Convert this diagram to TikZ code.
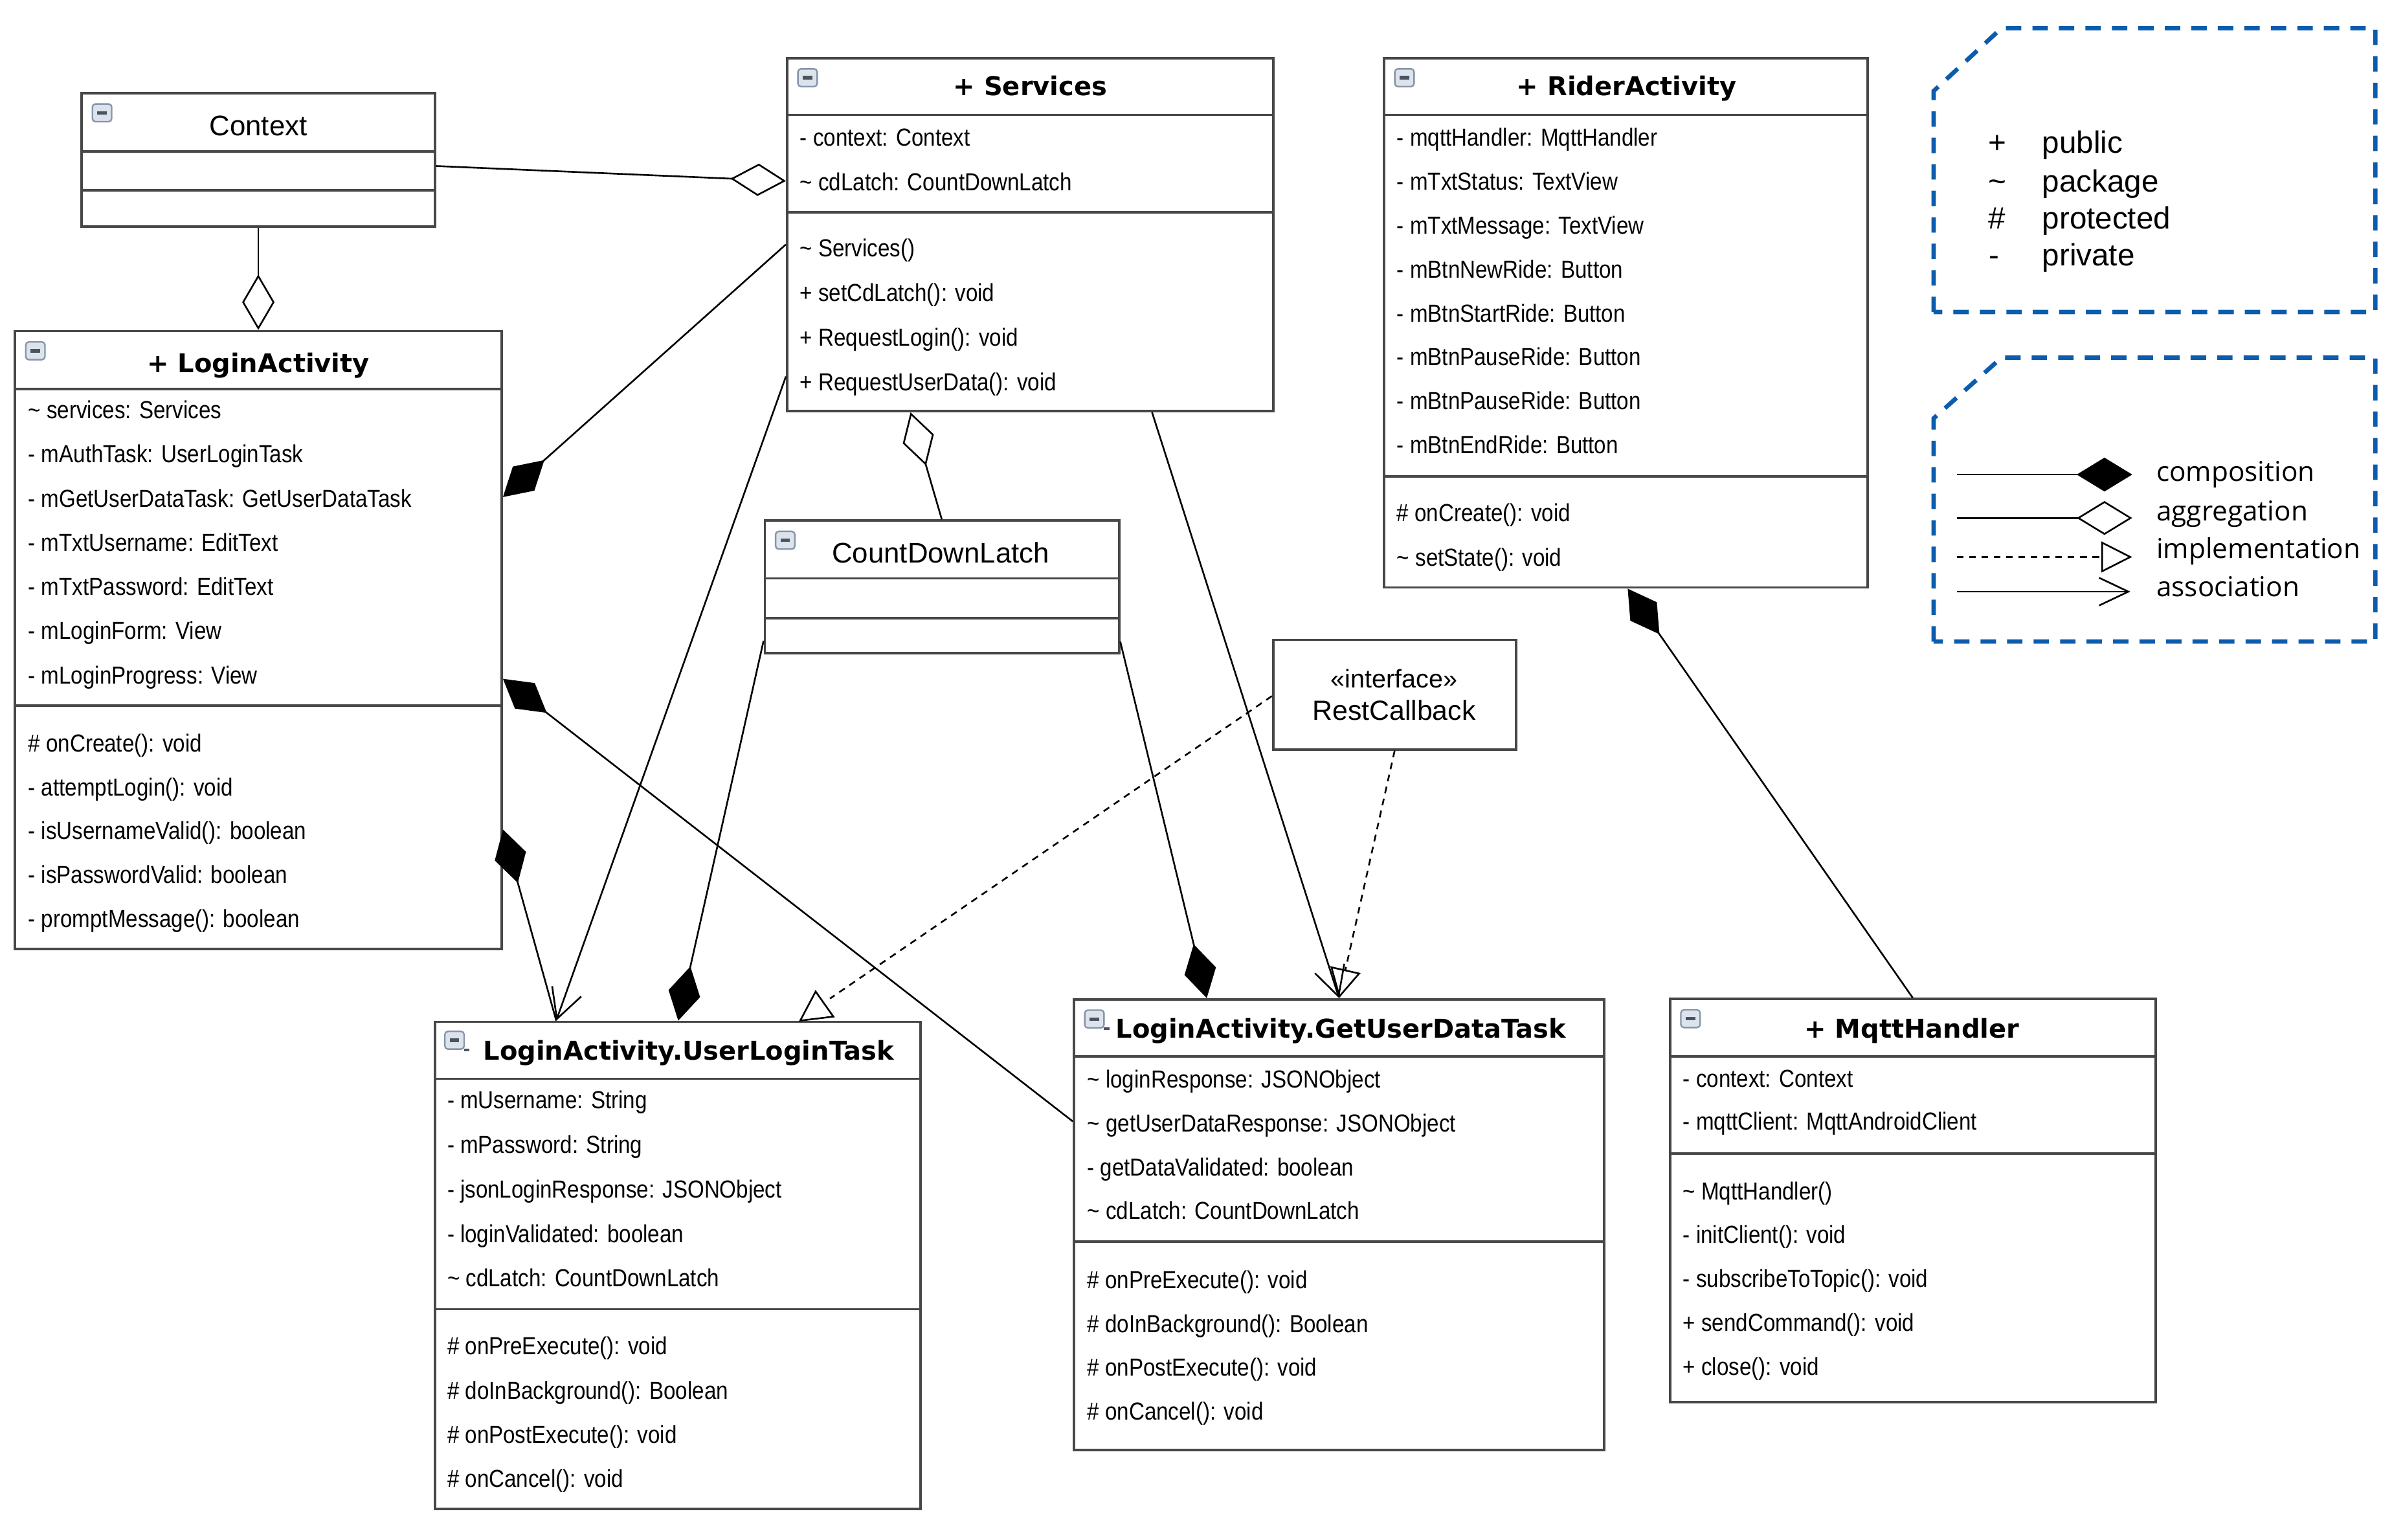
\documentclass[tikz,border=0pt]{standalone}
\usepackage{fontspec}
\setmainfont{Liberation Sans}
\newfontfamily\memfont[FakeStretch=0.87]{Liberation Sans}
\newfontfamily\ttlfont{DejaVu Sans}
\newfontfamily\legfont{Open Sans}
\usetikzlibrary{arrows.meta,fit,calc}
\definecolor{boxgray}{HTML}{474747}
\definecolor{legblue}{HTML}{0B5CAD}
\definecolor{iconfill}{HTML}{DCE3EC}
\definecolor{iconline}{HTML}{8795A8}
\definecolor{icondark}{HTML}{4A5360}
\tikzset{
  box/.style={draw=boxgray, line width=0.8pt, fill=white, inner sep=0pt},
  divider/.style={draw=boxgray, line width=0.8pt},
  mem/.style={font=\memfont\fontsize{8}{9}\selectfont, anchor=west, inner sep=0pt, text height=5.8pt, text depth=0pt},
  cls/.style={font=\ttlfont\bfseries\fontsize{8.4}{10}\selectfont, inner sep=0pt, text height=6.1pt, text depth=0pt},
  plaincls/.style={font=\fontsize{9.2}{11}\selectfont, inner sep=0pt, text height=6.6pt, text depth=0pt},
  legt/.style={font=\fontsize{10}{12}\selectfont, inner sep=0pt, text height=7.3pt, text depth=2.1pt},
  legt2/.style={font=\legfont\fontsize{8.9}{11}\selectfont, anchor=west, inner sep=0pt, text height=6.5pt, text depth=2.1pt},
  conn/.style={line width=0.55pt, draw=black},
  dashedl/.style={dash pattern=on 2.2pt off 1.8pt},
  compstart/.style={arrows={Diamond[length=18pt,width=10.5pt]-}},
  compend/.style={arrows={-Diamond[length=18pt,width=10.5pt]}},
  aggstart/.style={arrows={Diamond[open,length=18pt,width=10.5pt]-}},
  aggend/.style={arrows={-Diamond[open,length=18pt,width=10.5pt]}},
  assocend/.style={arrows={-Straight Barb[length=9.5pt,width=10pt]}},
  implend/.style={arrows={-Triangle[open,length=9.5pt,width=10pt]}},
  legline/.style={draw=legblue, line width=1.4pt, dash pattern=on 5pt off 3.6pt},
  minusicon/.pic={
    \draw[iconline, fill=iconfill, line width=0.5pt, rounded corners=1pt] (0,0) rectangle (12.5,11.5);
    \draw[icondark, line width=1.1pt] (3.2,5.75) -- (9.3,5.75);
  },
  icontail/.pic={
    \draw[icondark, line width=0.8pt] (12.5,12) -- (16,12);
  }
}
\begin{document}
\begin{tikzpicture}[x=0.5pt, y=-0.5pt]
\useasboundingbox (0,0) rectangle (1560,999.8);
\fill[white] (0,0) rectangle (1560,999.8);

% ---------------- class boxes ----------------
\node[box, fit={(53,60.5) (282.4,147)}] (ctx) {};
\node[box, fit={(511,37.7) (826.6,266.9)}] (svc) {};
\node[box, fit={(898.5,37.7) (1212.4,381.4)}] (rider) {};
\node[box, fit={(9.7,215) (325.7,616)}] (login) {};
\node[box, fit={(496.5,338) (726.5,424)}] (cdl) {};
\node[box, fit={(826.5,415.4) (984.3,486.5)}] (rest) {};
\node[box, fit={(282.3,663.4) (597.6,979.5)}] (ult) {};
\node[box, fit={(697.2,648.8) (1041.4,941.4)}] (gudt) {};
\node[box, fit={(1084.2,648.6) (1399.3,910.2)}] (mqtt) {};

% dividers
\foreach \n/\a/\b in {ctx/98.2/123.5, svc/74.6/138, rider/74.6/309.4, login/252.5/458,
                      cdl/375.5/401.3, ult/700.4/850, gudt/685.7/805.9, mqtt/685.7/748.9} {
  \draw[divider] (\n.west |- 0,\a) -- (\n.east |- 0,\a);
  \draw[divider] (\n.west |- 0,\b) -- (\n.east |- 0,\b);
}

% icons
\pic at (60,67.5) {minusicon};
\pic at (518,44.7) {minusicon};
\pic at (905.5,44.7) {minusicon};
\pic at (16.7,222) {minusicon};
\pic at (503.5,345) {minusicon};
\pic at (288.8,669.6) {minusicon};
\pic at (288.8,669.6) {icontail};
\pic at (704.2,655.8) {minusicon};
\pic at (704.2,655.8) {icontail};
\pic at (1091.2,655.6) {minusicon};

% titles
\node[plaincls] (ctx-t) at (167.7,81.5) {Context};
\node[cls] (svc-t) at (668.8,56) {+ Services};
\node[cls] (rider-t) at (1056,56) {+ RiderActivity};
\node[cls] (login-t) at (167.7,235.6) {+ LoginActivity};
\node[plaincls] (cdl-t) at (610.7,358.9) {CountDownLatch};
\node[font=\fontsize{8.3}{10}\selectfont, inner sep=0pt, text height=6pt, text depth=0pt] (rest-s) at (905,440.4) {«interface»};
\node[font=\fontsize{9}{11}\selectfont, inner sep=0pt, text height=6.5pt, text depth=0pt] (rest-t) at (905,460.9) {RestCallback};
\node[cls] (ult-t) at (447,682.2) {LoginActivity.UserLoginTask};
\node[cls] (gudt-t) at (870.5,667.6) {LoginActivity.GetUserDataTask};
\node[cls] (mqtt-t) at (1241.2,667.8) {+ MqttHandler};

% members: Services
\foreach \t [count=\i] in {{- context: Context},{\textasciitilde{} cdLatch: CountDownLatch}}
  \node[mem] (svc-a\i) at (519,{89.1+28.8*(\i-1)}) {\t};
\foreach \t [count=\i] in {{\textasciitilde{} Services()},{+ setCdLatch(): void},{+ RequestLogin(): void},{+ RequestUserData(): void}}
  \node[mem] (svc-m\i) at (519,{161+28.9*(\i-1)}) {\t};

% RiderActivity
\foreach \t [count=\i] in {{- mqttHandler: MqttHandler},{- mTxtStatus: TextView},{- mTxtMessage: TextView},{- mBtnNewRide: Button},{- mBtnStartRide: Button},{- mBtnPauseRide: Button},{- mBtnPauseRide: Button},{- mBtnEndRide: Button}}
  \node[mem] (rider-a\i) at (906.5,{89.1+28.5*(\i-1)}) {\t};
\foreach \t [count=\i] in {{\# onCreate(): void},{\textasciitilde{} setState(): void}}
  \node[mem] (rider-m\i) at (906.5,{332.8+28.8*(\i-1)}) {\t};

% LoginActivity
\foreach \t [count=\i] in {{\textasciitilde{} services: Services},{- mAuthTask: UserLoginTask},{- mGetUserDataTask: GetUserDataTask},{- mTxtUsername: EditText},{- mTxtPassword: EditText},{- mLoginForm: View},{- mLoginProgress: View}}
  \node[mem] (login-a\i) at (18,{265.9+28.7*(\i-1)}) {\t};
\foreach \t [count=\i] in {{\# onCreate(): void},{- attemptLogin(): void},{- isUsernameValid(): boolean},{- isPasswordValid: boolean},{- promptMessage(): boolean}}
  \node[mem] (login-m\i) at (18,{482.2+28.5*(\i-1)}) {\t};

% UserLoginTask
\foreach \t [count=\i] in {{- mUsername: String},{- mPassword: String},{- jsonLoginResponse: JSONObject},{- loginValidated: boolean},{\textasciitilde{} cdLatch: CountDownLatch}}
  \node[mem] (ult-a\i) at (290,{714+28.9*(\i-1)}) {\t};
\foreach \t [count=\i] in {{\# onPreExecute(): void},{\# doInBackground(): Boolean},{\# onPostExecute(): void},{\# onCancel(): void}}
  \node[mem] (ult-m\i) at (290,{873.7+28.7*(\i-1)}) {\t};

% GetUserDataTask
\foreach \t [count=\i] in {{\textasciitilde{} loginResponse: JSONObject},{\textasciitilde{} getUserDataResponse: JSONObject},{- getDataValidated: boolean},{\textasciitilde{} cdLatch: CountDownLatch}}
  \node[mem] (gudt-a\i) at (705.5,{700.4+28.5*(\i-1)}) {\t};
\foreach \t [count=\i] in {{\# onPreExecute(): void},{\# doInBackground(): Boolean},{\# onPostExecute(): void},{\# onCancel(): void}}
  \node[mem] (gudt-m\i) at (705.5,{830.6+28.5*(\i-1)}) {\t};

% MqttHandler
\foreach \t [count=\i] in {{- context: Context},{- mqttClient: MqttAndroidClient}}
  \node[mem] (mqtt-a\i) at (1092.2,{700+27.9*(\i-1)}) {\t};
\foreach \t [count=\i] in {{\textasciitilde{} MqttHandler()},{- initClient(): void},{- subscribeToTopic(): void},{+ sendCommand(): void},{+ close(): void}}
  \node[mem] (mqtt-m\i) at (1092.2,{773+28.5*(\i-1)}) {\t};

% ---------------- connectors ----------------
\draw[conn, aggend] (ctx.east |- 0,107.8) -- (svc.west |- 0,117.5);
\draw[conn, aggend] (ctx.south) -- (login.north);
\draw[conn, compend] (svc.west |- 0,158.7) -- (login.east |- 0,322.7);
\draw[conn, assocend] (svc.west |- 0,244.4) -- (ult.north -| 361.1,0);
\draw[conn, aggstart] (svc.south -| 591.1,0) -- (cdl.north -| 611.4,0);
\draw[conn, assocend] (svc.south -| 747.9,0) -- (gudt.north);
\draw[conn, compend] (cdl.west |- 0,416) -- (ult.north -| 440.3,0);
\draw[conn, compend] (cdl.east |- 0,416.6) -- (gudt.north -| 783.4,0);
\coordinate (rcend) at (538.8,648.3);
\draw[conn, dashedl] (rest.west |- 0,451.9) -- (rcend);
\draw[conn, fill=white, line join=miter] (ult.north -| 519.5,0) -- (541,660) -- (529.5,643.7) -- cycle;
\draw[conn, dashedl, implend] (rest.south) -- (gudt.north);
\draw[conn, compstart] (login.east |- 0,440.7) -- (gudt.west |- 0,728);
\draw[conn, compstart] (login.east |- 0,538.5) -- (ult.north -| 361.1,0);
\draw[conn, compstart] (rider.south -| 1056.7,0) -- (mqtt.north -| 1241.7,0);

% ---------------- legend ----------------
\draw[legline] (1255.3,202.6) -- (1255.3,59.1) -- (1299.3,18.3) -- (1542,18.3) -- (1542,202.6) -- cycle;
\draw[legline] (1255.3,416.5) -- (1255.3,271.6) -- (1299.3,232.2) -- (1542,232.2) -- (1542,416.5) -- cycle;

\node[legt] (lg-s1) at (1296.5,94.3) {+};
\node[legt] (lg-s2) at (1296.5,119.6) {\textasciitilde};
\node[legt] (lg-s3) at (1296.5,143.5) {\#};
\node[legt] (lg-s4) at (1294.4,167.4) {-};
\node[legt, anchor=west] (lg-w1) at (1325.4,94.3) {public};
\node[legt, anchor=west] (lg-w2) at (1325.4,119.6) {package};
\node[legt, anchor=west] (lg-w3) at (1325.4,143.5) {protected};
\node[legt, anchor=west] (lg-w4) at (1325.4,167.4) {private};

\coordinate (lc1a) at (1270.3,308.1); \coordinate (lc1b) at (1384.2,308.1);
\coordinate (lc2a) at (1270.3,336.3); \coordinate (lc2b) at (1384.2,336.3);
\coordinate (lc3a) at (1270.3,361.6); \coordinate (lc3b) at (1384.2,361.6);
\coordinate (lc4a) at (1270.3,384.1); \coordinate (lc4b) at (1383,384.1);
\draw[conn, arrows={-Diamond[length=18pt,width=11pt]}] (lc1a) -- (lc1b);
\draw[conn, arrows={-Diamond[open,length=18pt,width=11pt]}] (lc2a) -- (lc2b);
\draw[conn, dashedl, arrows={-Triangle[open,length=10pt,width=10pt]}] (lc3a) -- (lc3b);
\draw[conn, arrows={-Straight Barb[length=9.5pt,width=9pt]}] (lc4a) -- (lc4b);

\node[legt2] (lg-t1) at (1399.5,308.1) {composition};
\node[legt2] (lg-t2) at (1399.5,333.5) {aggregation};
\node[legt2] (lg-t3) at (1399.5,358) {implementation};
\node[legt2] (lg-t4) at (1399.5,382.7) {association};
\end{tikzpicture}
\end{document}
